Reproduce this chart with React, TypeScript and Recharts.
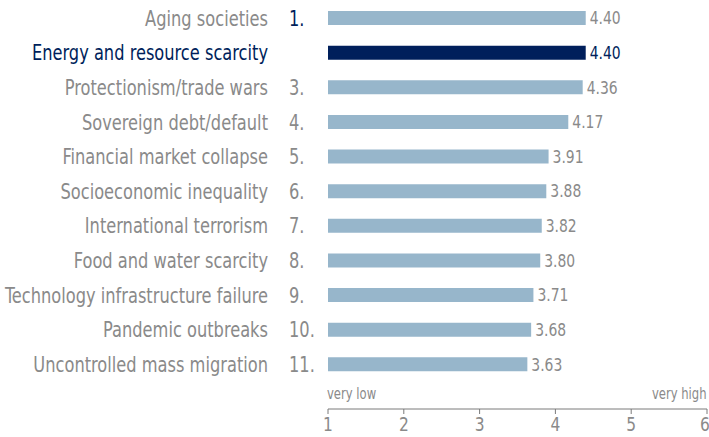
import { BarChart, Bar, XAxis, YAxis, Cell, LabelList } from 'recharts';

const categories = [
  'Aging societies',
  'Energy and resource scarcity',
  'Protectionism/trade wars',
  'Sovereign debt/default',
  'Financial market collapse',
  'Socioeconomic inequality',
  'International terrorism',
  'Food and water scarcity',
  'Technology infrastructure failure',
  'Pandemic outbreaks',
  'Uncontrolled mass migration',
];
const ranks = ['1.', '', '3.', '4.', '5.', '6.', '7.', '8.', '9.', '10.', '11.'];
const scores = [4.4, 4.4, 4.36, 4.17, 3.91, 3.88, 3.82, 3.8, 3.71, 3.68, 3.63];
const xTicks = [1, 2, 3, 4, 5, 6];
const highlight = 1;

const NAVY = '#001f5b';
const LIGHT = '#97b6cb';
const GRAY = '#8a8a8a';
const FONT = "'DejaVu Sans Condensed', 'DejaVu Sans', sans-serif";
const SQUEEZE = 0.86;

const data = categories.map((name, i) => ({ name, rank: ranks[i], score: scores[i] }));

// condensed look: scale the glyphs horizontally around the anchor point
function NarrowText({ x, y, anchor = 'start', size, fill, children }: any) {
  return (
    <text
      transform={`translate(${x},${y}) scale(${SQUEEZE},1)`}
      x={0}
      y={0}
      dy="0.35em"
      textAnchor={anchor}
      fontSize={size}
      fontFamily={FONT}
      fill={fill}
    >
      {children}
    </text>
  );
}

function CategoryTick({ x, y, payload, index }: any) {
  const i = index ?? categories.indexOf(payload.value);
  return (
    <g>
      <NarrowText x={x - 52} y={y} anchor="end" size={21} fill={i === highlight ? NAVY : GRAY}>
        {payload.value}
      </NarrowText>
      <NarrowText x={x - 31} y={y} size={21} fill={i === 0 ? NAVY : GRAY}>
        {ranks[i]}
      </NarrowText>
    </g>
  );
}

function ScoreTick({ x, y, payload }: any) {
  return (
    <NarrowText x={x} y={y + 8} anchor="middle" size={20} fill={GRAY}>
      {payload.value}
    </NarrowText>
  );
}

function ValueLabel({ x, y, width, height, value, index }: any) {
  return (
    <NarrowText x={x + width + 4} y={y + height / 2} size={18} fill={index === highlight ? NAVY : GRAY}>
      {Number(value).toFixed(2)}
    </NarrowText>
  );
}

const noteStyle = {
  position: 'absolute' as const,
  top: 385,
  fontSize: 15,
  fontFamily: FONT,
  color: GRAY,
};

export default function App() {
  return (
    <div style={{ position: 'relative', width: 709, height: 437, background: '#fff' }}>
      <style>{'body{margin:0}'}</style>
      <BarChart width={709} height={437} data={data} layout="vertical" margin={{ top: 1, right: 2, bottom: 0, left: 0 }}>
        <XAxis
          type="number"
          domain={[1, 6]}
          ticks={xTicks}
          allowDataOverflow
          height={28}
          stroke="#7a7a7a"
          tickSize={5}
          tick={<ScoreTick />}
        />
        <YAxis
          type="category"
          dataKey="name"
          width={328}
          axisLine={false}
          tickLine={false}
          padding={{ top: 0, bottom: 27 }}
          tick={<CategoryTick />}
          interval={0}
        />
        <Bar dataKey="score" barSize={14} isAnimationActive={false}>
          {data.map((d, i) => (
            <Cell key={d.name} fill={i === highlight ? NAVY : LIGHT} />
          ))}
          <LabelList dataKey="score" content={<ValueLabel />} />
        </Bar>
      </BarChart>
      <div style={{ ...noteStyle, left: 327, transform: `scaleX(${SQUEEZE})`, transformOrigin: 'left' }}>very low</div>
      <div style={{ ...noteStyle, right: 2, transform: `scaleX(${SQUEEZE})`, transformOrigin: 'right' }}>very high</div>
    </div>
  );
}
